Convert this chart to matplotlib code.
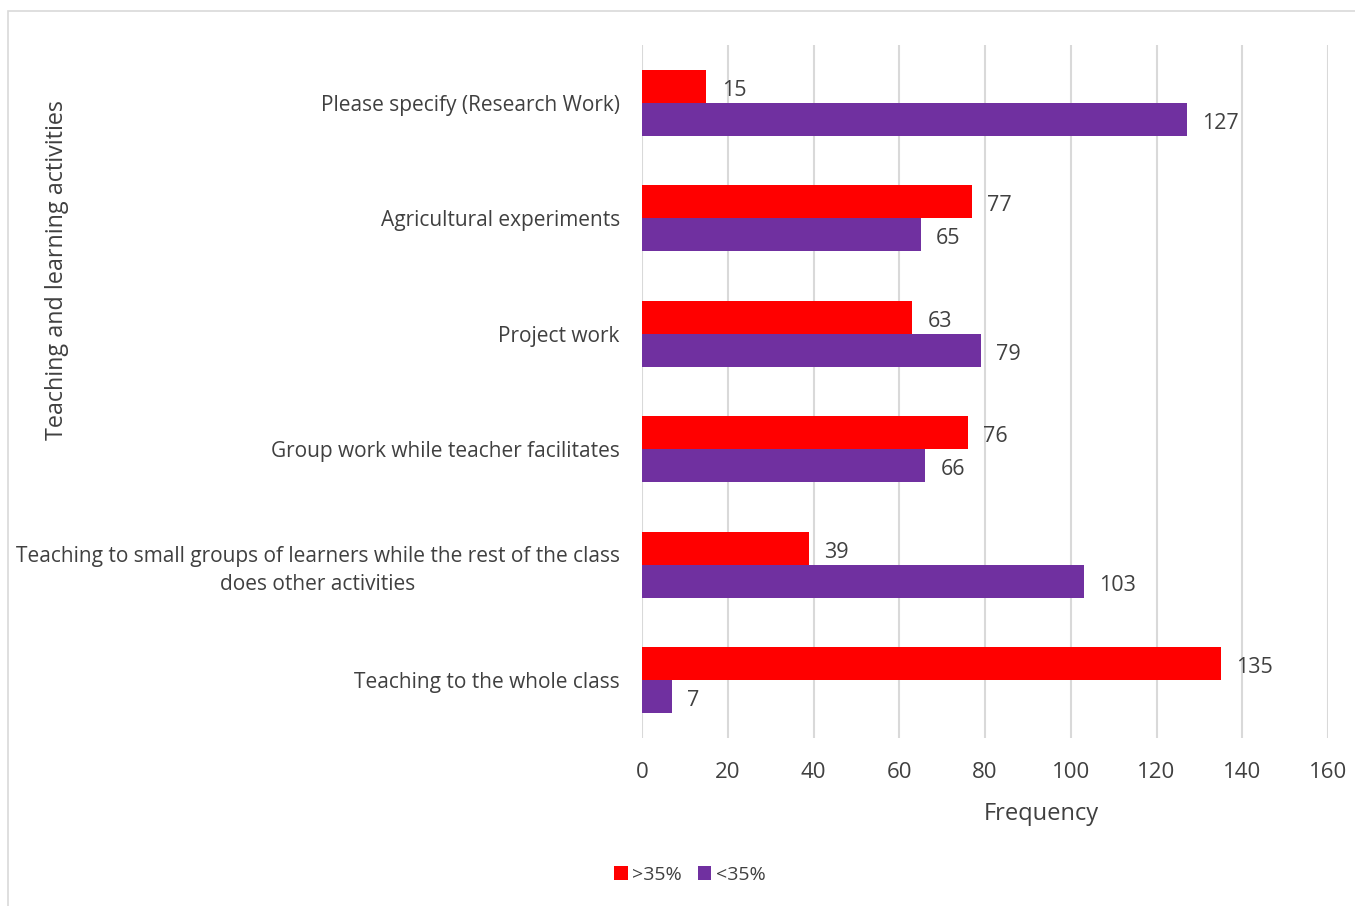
import numpy as np
import matplotlib.pyplot as plt
from matplotlib.patches import Rectangle

plt.rcParams['font.family'] = ['Open Sans', 'DejaVu Sans']

activities = [
	"Please specify (Research Work)",
	"Agricultural experiments",
	"Project work",
	"Group work while teacher facilitates",
	"Teaching to small groups of learners while the rest of the class\ndoes other activities",
	"Teaching to the whole class",
]
above35 = [15, 77, 63, 76, 39, 135]
below35 = [127, 65, 79, 66, 103, 7]
series_labels = [">35%", "<35%"]
colors = ["#FF0000", "#7030A0"]
text_color = "#404040"

fig = plt.figure(figsize=(13.55, 9.06), dpi=100)
ax = fig.add_axes([0.4738, 0.1854, 0.5063, 0.7649])

# categories run top to bottom
y = np.arange(len(activities))[::-1]
h = 0.285

bars1 = ax.barh(y + h / 2, above35, height=h, color=colors[0], label=series_labels[0], zorder=3)
bars2 = ax.barh(y - h / 2, below35, height=h, color=colors[1], label=series_labels[1], zorder=3)

for bars in (bars1, bars2):
	for b in bars:
		ax.annotate(str(int(b.get_width())), (b.get_width(), b.get_y() + b.get_height() / 2),
			xytext=(11, -3), textcoords="offset points", va="center", ha="left",
			fontsize=15.5, color=text_color)

ax.set_xlim(0, 160)
ax.set_xticks(range(0, 161, 20))
ax.set_ylim(-0.5, len(activities) - 0.5)
ax.set_yticks(y)
ax.set_yticklabels(activities, multialignment="center", linespacing=1.45)
ax.grid(axis="x", color="#d9d9d9", linewidth=1.5, zorder=0)
ax.set_axisbelow(True)
for s in ax.spines.values():
	s.set_visible(False)
ax.tick_params(axis="y", length=0, pad=16, labelsize=15, labelcolor=text_color)
ax.tick_params(axis="x", length=0, pad=17, labelsize=16, labelcolor=text_color)

fig.text(1041 / 1355, 1 - 814 / 906, "Frequency", ha="center", va="center", fontsize=17, color=text_color)
fig.text(57 / 1355, 1 - 270 / 906, "Teaching and learning activities", ha="center", va="center",
	rotation=90, fontsize=16.8, color=text_color)

leg = fig.legend(loc="center", bbox_to_anchor=(690 / 1355, 1 - 875 / 906), ncol=2, frameon=False,
	fontsize=14, handlelength=0.7, handleheight=0.7, handletextpad=0.25, columnspacing=0.8)
for t in leg.get_texts():
	t.set_color(text_color)

# chart border
fig.patches.append(Rectangle((8 / 1355, -0.01), 1.1, 1 - 11 / 906 + 0.01, transform=fig.transFigure,
	fill=False, edgecolor="#d9d9d9", linewidth=1.2))

plt.savefig("out.png")
